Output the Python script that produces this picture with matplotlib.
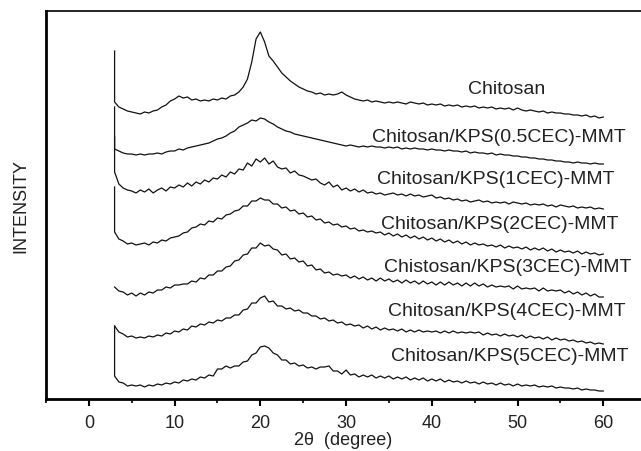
import matplotlib
matplotlib.use('Agg')
import matplotlib.pyplot as plt
from matplotlib.ticker import MultipleLocator
import numpy as np

# 2theta sampling (degree), 3 -> 60 every 0.5
two_theta = np.arange(3.0, 60.01, 0.5)

# intensities (stacked, arbitrary units)
chitosan = [297, 292, 290, 288, 287, 286, 285, 287, 286, 288,
            289, 292, 294, 298, 300, 303, 301, 302, 299, 300,
            298, 299, 298, 300, 299, 301, 300, 303, 304, 307,
            312, 320, 337, 360, 367, 357, 343, 338, 332, 326,
            322, 318, 315, 312, 310, 308, 307, 305, 306, 304,
            305, 304, 305, 307, 304, 302, 300, 299, 298, 299,
            297, 298, 297, 296, 297, 296, 297, 296, 295, 297,
            296, 295, 296, 294, 295, 294, 295, 293, 294, 293,
            294, 292, 293, 292, 293, 291, 292, 291, 292, 290,
            291, 290, 291, 289, 291, 289, 288, 289, 288, 287,
            288, 286, 287, 286, 286, 285, 285, 284, 284, 283,
            284, 282, 283, 281, 282]
kps_05 = [250, 248, 246, 245, 245, 244, 245, 244, 245, 245,
          246, 245, 247, 248, 248, 250, 249, 251, 252, 253,
          254, 255, 256, 258, 260, 261, 263, 266, 268, 272,
          274, 276, 279, 278, 281, 280, 277, 275, 272, 270,
          268, 267, 265, 264, 263, 262, 261, 260, 259, 258,
          257, 256, 255, 254, 253, 254, 253, 252, 253, 252,
          253, 252, 252, 251, 252, 251, 252, 250, 251, 250,
          251, 250, 250, 249, 250, 249, 249, 248, 249, 248,
          248, 247, 248, 246, 247, 246, 246, 245, 246, 244,
          245, 244, 244, 243, 243, 242, 242, 241, 241, 240,
          240, 239, 239, 238, 238, 237, 237, 236, 237, 236,
          236, 235, 236, 235, 235]
kps_1 = [227, 215, 211, 209, 208, 206, 209, 207, 210, 206,
         209, 211, 208, 212, 211, 214, 212, 216, 213, 217,
         215, 219, 217, 221, 220, 224, 222, 227, 225, 230,
         229, 236, 233, 240, 237, 241, 235, 238, 232, 230,
         231, 226, 228, 224, 223, 221, 219, 220, 216, 214,
         217, 212, 214, 209, 211, 208, 210, 207, 209, 206,
         207, 205, 206, 204, 205, 206, 204, 205, 203, 205,
         203, 204, 202, 203, 204, 201, 202, 200, 201, 199,
         200, 198, 199, 197, 198, 199, 197, 198, 196, 197,
         196, 197, 195, 197, 196, 195, 196, 194, 195, 194,
         195, 193, 194, 192, 194, 193, 192, 193, 191, 192,
         191, 192, 190, 191, 190]
kps_2 = [167, 160, 158, 155, 156, 154, 155, 156, 154, 157,
         156, 159, 158, 161, 162, 163, 166, 167, 171, 172,
         175, 174, 178, 177, 181, 180, 184, 185, 188, 189,
         193, 193, 198, 198, 201, 199, 199, 195, 195, 191,
         192, 188, 189, 185, 186, 182, 183, 179, 180, 176,
         177, 174, 175, 172, 173, 170, 171, 168, 169, 167,
         168, 166, 167, 164, 166, 163, 165, 162, 164, 161,
         163, 160, 162, 159, 161, 158, 160, 157, 159, 156,
         158, 155, 157, 154, 156, 154, 155, 153, 154, 152,
         154, 151, 153, 151, 152, 150, 152, 149, 151, 149,
         151, 148, 150, 147, 149, 147, 148, 146, 148, 145,
         147, 145, 146, 144, 145]
kps_3 = [112, 108, 107, 104, 106, 103, 106, 104, 107, 106,
         109, 109, 112, 111, 114, 114, 115, 115, 118, 117,
         121, 120, 124, 124, 128, 128, 132, 133, 138, 139,
         144, 145, 151, 151, 156, 153, 154, 150, 149, 144,
         145, 140, 141, 137, 138, 133, 134, 129, 130, 126,
         127, 124, 125, 123, 124, 121, 123, 120, 122, 119,
         121, 118, 121, 118, 120, 117, 119, 116, 119, 116,
         118, 115, 118, 115, 117, 114, 117, 114, 117, 114,
         116, 113, 116, 113, 116, 113, 115, 112, 114, 112,
         113, 112, 113, 110, 113, 110, 111, 110, 111, 108,
         111, 108, 109, 108, 109, 106, 108, 105, 107, 104,
         106, 103, 105, 102, 102]
kps_4 = [73, 67, 65, 62, 63, 61, 62, 61, 63, 62,
         64, 63, 66, 65, 68, 67, 70, 69, 73, 72,
         75, 74, 77, 76, 79, 78, 81, 81, 84, 84,
         89, 90, 96, 96, 101, 103, 97, 98, 93, 93,
         90, 91, 88, 89, 86, 86, 83, 83, 80, 81,
         78, 79, 76, 77, 74, 75, 73, 74, 71, 73,
         70, 72, 69, 71, 69, 70, 68, 70, 67, 69,
         67, 69, 67, 68, 67, 68, 66, 68, 66, 68,
         66, 67, 66, 67, 66, 67, 64, 66, 64, 65,
         63, 65, 63, 64, 62, 64, 61, 63, 61, 62,
         60, 62, 59, 61, 59, 60, 58, 59, 57, 58,
         56, 57, 55, 56, 55]
kps_5 = [23, 17, 16, 13, 14, 13, 14, 12, 14, 13,
         15, 14, 16, 15, 17, 16, 19, 18, 20, 19,
         22, 21, 24, 23, 30, 30, 33, 31, 33, 33,
         37, 38, 44, 46, 52, 53, 51, 46, 44, 39,
         39, 35, 36, 33, 34, 31, 32, 30, 32, 32,
         33, 28, 28, 25, 29, 24, 25, 22, 24, 22,
         24, 21, 23, 21, 23, 20, 22, 20, 22, 19,
         21, 19, 21, 18, 20, 18, 20, 17, 19, 17,
         18, 16, 18, 16, 17, 15, 17, 15, 16, 14,
         16, 14, 15, 13, 15, 13, 14, 13, 14, 12,
         13, 12, 13, 11, 12, 11, 11, 10, 11, 9,
         10, 9, 9, 8, 8]

# intensity at the very start (low-angle spike at 3 deg)
spike = [348, 292, 262, 212, 112, 73, 73]

curves = [chitosan, kps_05, kps_1, kps_2, kps_3, kps_4, kps_5]
labels = ['Chitosan',
          'Chitosan/KPS(0.5CEC)-MMT',
          'Chitosan/KPS(1CEC)-MMT',
          'Chitosan/KPS(2CEC)-MMT',
          'Chistosan/KPS(3CEC)-MMT',
          'Chitosan/KPS(4CEC)-MMT',
          'Chitosan/KPS(5CEC)-MMT']
label_x = [48.7, 47.8, 47.5, 47.9, 48.9, 48.7, 49.1]
label_y = [310, 263, 220, 175, 133, 88, 43]

plt.rcParams['font.family'] = ['Liberation Sans', 'DejaVu Sans']
fig = plt.figure(figsize=(6.41, 4.52), dpi=100)
ax = fig.add_axes([46/641, 52/452, 595/641, 388/452])

for y, s in zip(curves, spike):
    xs = np.concatenate([[3.0], two_theta])
    ys = np.concatenate([[s], y])
    ax.plot(xs, ys, color='#111111', lw=0.9)

for t, lx, ly in zip(labels, label_x, label_y):
    ax.text(lx, ly, t, ha='center', va='center', fontsize=14, color='#222222')

ax.set_xlim(-5, 64.4)
ax.set_ylim(0, 388)
ax.xaxis.set_major_locator(MultipleLocator(10))
ax.xaxis.set_minor_locator(MultipleLocator(5))
ax.tick_params(axis='x', which='major', direction='out', length=5, width=1.5, labelsize=13, labelcolor='#222222', pad=6)
ax.tick_params(axis='x', which='minor', direction='out', length=3, width=1.2)
ax.set_yticks([])
ax.spines['right'].set_visible(False)
ax.spines['left'].set_linewidth(2)
ax.spines['bottom'].set_linewidth(2)
ax.spines['top'].set_linewidth(1.2)

ax.set_xlabel('2θ  (degree)', fontsize=13, color='#222222', labelpad=0)
ax.set_ylabel('INTENSITY', fontsize=13, color='#222222', labelpad=12)

fig.savefig('out.png', dpi=100)
